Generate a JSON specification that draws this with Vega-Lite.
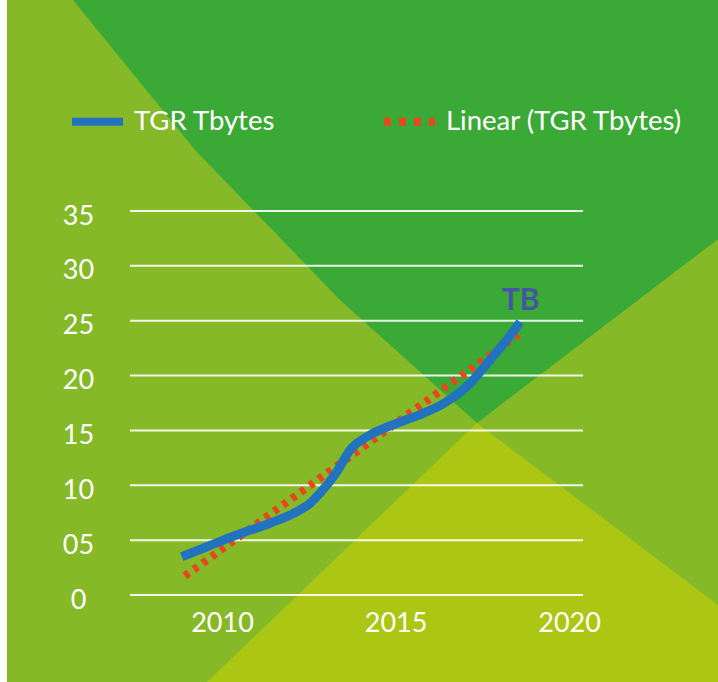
{
  "$schema": "https://vega.github.io/schema/vega-lite/v6.json",
  "width": 453,
  "height": 384,
  "autosize": {"type": "none"},
  "padding": {"left": 130, "right": 135, "top": 211, "bottom": 87},
  "background": "#86b928",
  "config": {
    "view": {"stroke": null},
    "font": "Lato",
    "axis": {"grid": false, "domain": false, "ticks": false, "labelColor": "#ffffff", "labelFont": "Lato", "labelFontSize": 27, "labelFlush": false, "labelOverlap": false, "zindex": 1},
    "axisX": {"labelPadding": 15, "labelBaseline": "top"},
    "axisY": {"labelAlign": "center", "labelBaseline": "middle", "labelPadding": 52, "labelOffset": 5}
  },
  "datasets": {
    "tgr": [
      {"year": 2008.84, "tb": 3.49},
      {"year": 2009.46, "tb": 4.26},
      {"year": 2010.42, "tb": 5.47},
      {"year": 2011.38, "tb": 6.54},
      {"year": 2012.15, "tb": 7.59},
      {"year": 2012.54, "tb": 8.36},
      {"year": 2012.82, "tb": 9.27},
      {"year": 2013.31, "tb": 11.24},
      {"year": 2013.69, "tb": 13.22},
      {"year": 2014.26, "tb": 14.58},
      {"year": 2015.03, "tb": 15.65},
      {"year": 2015.8, "tb": 16.56},
      {"year": 2016.47, "tb": 17.62},
      {"year": 2017.15, "tb": 19.3},
      {"year": 2017.72, "tb": 21.42},
      {"year": 2018.2, "tb": 23.24},
      {"year": 2018.59, "tb": 24.88}
    ],
    "trend": [
      {"year": 2008.93, "tb": 1.73},
      {"year": 2018.64, "tb": 23.97}
    ],
    "dark": [
      {"x": 2005.708, "y": 54.23},
      {"x": 2009.223, "y": 40.56},
      {"x": 2013.4, "y": 26.89},
      {"x": 2017.346, "y": 15.68},
      {"x": 2024.635, "y": 33.27}
    ],
    "yellow": [
      {"x": 2009.568, "y": -7.93},
      {"x": 2017.346, "y": 15.68},
      {"x": 2024.635, "y": -1.73}
    ],
    "grid": [
      {"v": 0}, {"v": 5}, {"v": 10}, {"v": 15}, {"v": 20}, {"v": 25}, {"v": 30}, {"v": 35}
    ],
    "one": [{}]
  },
  "layer": [
    {
      "data": {"name": "one"},
      "mark": {"type": "rect", "color": "#ffffff"},
      "encoding": {
        "x": {"datum": 2003.0, "type": "quantitative", "title": null, "scale": {"domain": [2007.35, 2020.4], "nice": false, "zero": false}},
        "x2": {"datum": 2003.807},
        "y": {"datum": -20, "type": "quantitative", "title": null, "scale": {"domain": [0, 35], "nice": false}},
        "y2": {"datum": 60}
      }
    },
    {
      "data": {"name": "dark"},
      "mark": {"type": "area", "color": "#3ba935", "interpolate": "linear"},
      "encoding": {
        "x": {"field": "x", "type": "quantitative", "title": null, "scale": {"domain": [2007.35, 2020.4], "nice": false, "zero": false}},
        "y": {"field": "y", "type": "quantitative", "title": null, "scale": {"domain": [0, 35], "nice": false}},
        "y2": {"datum": 60}
      }
    },
    {
      "data": {"name": "yellow"},
      "mark": {"type": "area", "color": "#abc713", "interpolate": "linear"},
      "encoding": {
        "x": {"field": "x", "type": "quantitative", "title": null, "scale": {"domain": [2007.35, 2020.4], "nice": false, "zero": false}},
        "y": {"field": "y", "type": "quantitative", "title": null, "scale": {"domain": [0, 35], "nice": false}},
        "y2": {"datum": -10}
      }
    },
    {
      "data": {"name": "grid"},
      "mark": {"type": "rule", "color": "#ffffff", "strokeWidth": 2, "opacity": 0.9},
      "encoding": {
        "y": {"field": "v", "type": "quantitative", "title": null, "scale": {"domain": [0, 35], "nice": false}}
      }
    },
    {
      "data": {"name": "trend"},
      "mark": {"type": "line", "strokeWidth": 8, "strokeDash": [5, 6], "strokeCap": "butt"},
      "encoding": {
        "x": {"field": "year", "type": "quantitative", "title": null, "scale": {"domain": [2007.35, 2020.4], "nice": false, "zero": false}},
        "y": {"field": "tb", "type": "quantitative", "title": null, "scale": {"domain": [0, 35], "nice": false}},
        "color": {"datum": "Linear (TGR Tbytes)"}
      }
    },
    {
      "data": {"name": "tgr"},
      "mark": {"type": "line", "strokeWidth": 9, "interpolate": "monotone", "strokeCap": "butt"},
      "encoding": {
        "x": {
          "field": "year", "type": "quantitative", "title": null,
          "scale": {"domain": [2007.35, 2020.4], "nice": false, "zero": false},
          "axis": {"values": [2010, 2015, 2020], "format": "d", "zindex": 1}
        },
        "y": {
          "field": "tb", "type": "quantitative", "title": null,
          "scale": {"domain": [0, 35], "nice": false},
          "axis": {"values": [0, 5, 10, 15, 20, 25, 30, 35], "labelExpr": "datum.value == 5 ? '05' : datum.label", "zindex": 1}
        },
        "color": {
          "datum": "TGR Tbytes",
          "scale": {"domain": ["TGR Tbytes", "Linear (TGR Tbytes)"], "range": ["#2173bf", "#e8471e"]},
          "legend": {
            "orient": "none", "legendX": -62, "legendY": -119, "direction": "horizontal", "title": null,
            "labelColor": "#ffffff", "labelFont": "Lato", "labelFontSize": 27.5, "labelLimit": 500,
            "symbolType": "stroke", "symbolSize": 2601, "symbolStrokeWidth": 8, "labelOffset": 7,
            "columnPadding": 92, "padding": 0,
            "encode": {"symbols": {
              "update": {
                "strokeDash": {"signal": "datum.value === 'TGR Tbytes' ? [1, 0] : [7, 8]"}
              }
            }}
          }
        }
      }
    },
    {
      "data": {"name": "one"},
      "mark": {"type": "text", "text": "TB", "font": "Lato", "fontWeight": "bold", "fontSize": 30, "color": "#4455a3", "align": "center", "baseline": "middle"},
      "encoding": {
        "x": {"datum": 2018.6, "type": "quantitative", "title": null, "scale": {"domain": [2007.35, 2020.4], "nice": false, "zero": false}},
        "y": {"datum": 26.8, "type": "quantitative", "title": null, "scale": {"domain": [0, 35], "nice": false}}
      }
    }
  ]
}
